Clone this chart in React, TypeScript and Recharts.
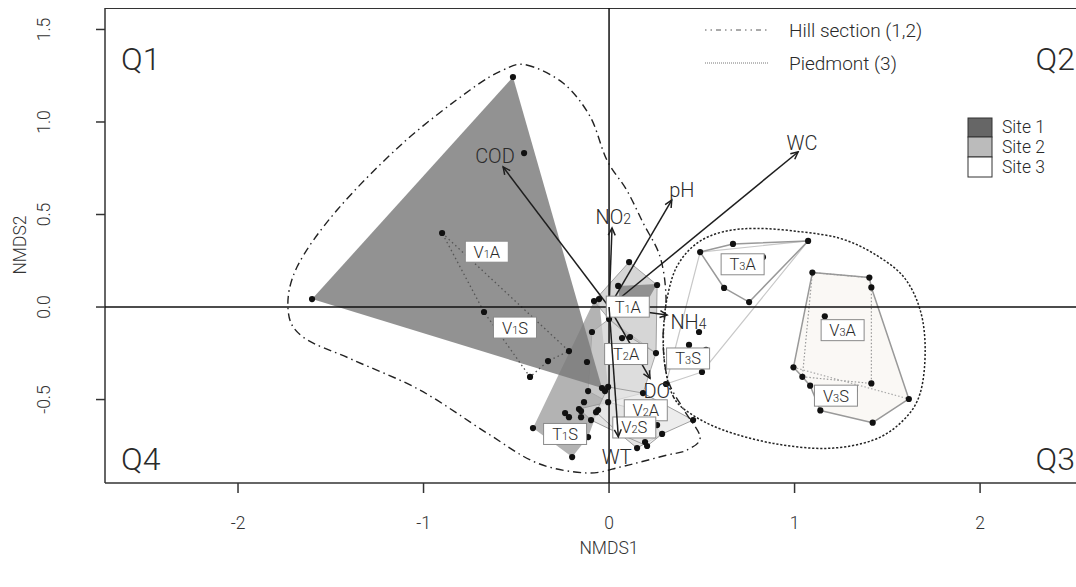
import React from 'react';
import { ScatterChart, Scatter, XAxis, YAxis } from 'recharts';

const X_DOMAIN: [number, number] = [-2.717, 2.517];
const Y_DOMAIN: [number, number] = [-0.951, 1.616];
const X_TICKS = [-2, -1, 0, 1, 2];
const Y_TICKS = [-0.5, 0, 0.5, 1, 1.5];

// hulls, NMDS1 / NMDS2 pairs
const V1A_HULL = [[-1.601, 0.043], [-0.518, 1.243], [-0.038, -0.438]];
const V1S_HULL = [[-0.9, 0.4], [-0.216, -0.238], [-0.329, -0.292], [-0.426, -0.378], [-0.674, -0.027]];
const T1S_HULL = [[-0.41, -0.654], [-0.081, 0.032], [-0.054, 0.043], [-0.005, -0.432], [-0.005, -0.514], [-0.059, -0.557], [-0.113, -0.703], [-0.199, -0.811]];
const T1A_HULL = [[0.049, 0.114], [0.259, 0.124], [0.21, 0.038], [0.06, 0.0]];
const T2A_HULL = [[-0.081, 0.032], [0.108, 0.243], [0.259, 0.119], [0.253, -0.249], [0.113, -0.162], [0.0, -0.065]];
const T2S_HULL = [[-0.092, -0.135], [0.0, -0.065], [0.253, -0.249], [0.183, -0.465], [-0.005, -0.514], [-0.113, -0.454]];
const V2A_HULL = [[-0.005, -0.432], [0.183, -0.465], [0.453, -0.611], [0.286, -0.686], [0.205, -0.751], [0.059, -0.686], [-0.07, -0.568]];
const V2S_HULL = [[-0.162, -0.551], [-0.005, -0.514], [0.173, -0.562], [0.286, -0.686], [0.151, -0.762], [0.059, -0.686], [-0.097, -0.611]];
const T3A_HULL = [[0.491, 0.297], [0.668, 0.341], [1.073, 0.357], [0.755, 0.027], [0.62, 0.103]];
const T3_OUTER = [[0.491, 0.297], [1.073, 0.357], [0.501, -0.351], [0.307, -0.416]];
const V3_OUTER = [[1.096, 0.186], [1.403, 0.159], [1.414, 0.106], [1.616, -0.497], [1.421, -0.625], [1.139, -0.559], [1.084, -0.425], [1.042, -0.377], [0.994, -0.326]];
const V3A_HULL = [[1.096, 0.186], [1.403, 0.159], [1.414, 0.106], [1.414, -0.413], [1.042, -0.377]];
const V3S_CUT = [[0.994, -0.326], [1.616, -0.497]];

// envelopes
const HILL_ENV = [[-0.444, 1.308], [-0.246, 1.209], [-0.102, 1.029], [-0.012, 0.795], [0.095, 0.632], [0.185, 0.452], [0.275, 0.272], [0.307, 0.054], [0.291, -0.178], [0.318, -0.395], [0.404, -0.557], [0.491, -0.703], [0.42, -0.773], [0.313, -0.8], [0.167, -0.838], [0.059, -0.865], [-0.119, -0.897], [-0.388, -0.843], [-0.658, -0.681], [-1.019, -0.449], [-1.38, -0.286], [-1.65, -0.162], [-1.73, -0.016], [-1.682, 0.216], [-1.466, 0.524], [-1.111, 0.886], [-0.749, 1.173], [-0.571, 1.281]];
const PIED_ENV = [[0.347, -0.485], [0.437, -0.575], [0.616, -0.665], [0.886, -0.737], [1.174, -0.764], [1.425, -0.719], [1.587, -0.611], [1.677, -0.466], [1.704, -0.232], [1.677, -0.016], [1.587, 0.164], [1.425, 0.29], [1.245, 0.371], [1.03, 0.407], [0.796, 0.425], [0.616, 0.407], [0.473, 0.344], [0.365, 0.218], [0.311, 0.038], [0.293, -0.142], [0.302, -0.323]];

// sample scores
const SITE1_PTS = [[-1.601, 0.043], [-0.518, 1.243], [-0.458, 0.832], [-0.038, -0.438], [-0.9, 0.4], [-0.674, -0.027], [-0.426, -0.378], [-0.329, -0.292], [-0.216, -0.238]];
const CENTRAL_PTS = [[-0.081, 0.032], [-0.054, 0.043], [0.108, 0.243], [0.049, 0.114], [0.259, 0.119], [-0.092, -0.135], [0.0, -0.065], [0.07, -0.168], [0.113, -0.162], [0.253, -0.249], [-0.119, -0.297], [-0.113, -0.454], [-0.022, -0.454], [-0.005, -0.432], [-0.135, -0.514], [-0.005, -0.514], [-0.162, -0.551], [-0.151, -0.562], [-0.07, -0.568], [-0.059, -0.557], [-0.237, -0.573], [-0.216, -0.595], [-0.151, -0.595], [-0.097, -0.611], [-0.41, -0.654], [-0.248, -0.659], [-0.113, -0.703], [-0.199, -0.811], [0.183, -0.465], [0.173, -0.562], [0.059, -0.686], [0.075, -0.681], [0.259, -0.638], [0.286, -0.686], [0.194, -0.73], [0.205, -0.751], [0.151, -0.762], [0.453, -0.611]];
const SITE3_PTS = [[0.307, -0.416], [0.501, -0.351], [0.485, -0.135], [0.431, -0.205], [0.447, -0.243], [0.523, -0.232], [0.491, 0.297], [0.668, 0.341], [1.073, 0.357], [0.755, 0.027], [0.62, 0.103], [0.83, 0.27], [1.096, 0.186], [1.403, 0.159], [1.414, 0.106], [1.414, -0.413], [1.163, -0.05], [0.994, -0.326], [1.042, -0.377], [1.084, -0.425], [1.139, -0.559], [1.421, -0.625], [1.616, -0.497], [1.324, -0.451]];

// group labels: [main, sub, tail]
const GROUP_NAMES = [['V', '1', 'A'], ['V', '1', 'S'], ['T', '1', 'A'], ['T', '2', 'A'], ['T', '3', 'S'], ['V', '2', 'A'], ['V', '2', 'S'], ['T', '1', 'S'], ['T', '3', 'A'], ['V', '3', 'A'], ['V', '3', 'S']];
const GROUP_X = [-0.659, -0.507, 0.101, 0.092, 0.426, 0.198, 0.136, -0.237, 0.72, 1.259, 1.223];
const GROUP_Y = [0.299, -0.111, 0.002, -0.254, -0.278, -0.558, -0.651, -0.686, 0.231, -0.125, -0.479];

// environmental vectors
const VEC_NAMES = [['COD', ''], ['NO', '2'], ['pH', ''], ['WC', ''], ['NH', '4'], ['DO', ''], ['WT', '']];
const VEC_X = [-0.571, 0.016, 0.338, 1.019, 0.313, 0.221, 0.05];
const VEC_Y = [0.757, 0.427, 0.578, 0.838, -0.043, -0.385, -0.701];
const VEC_LAB_X = [-0.615, 0.023, 0.392, 1.04, 0.428, 0.257, 0.041];
const VEC_LAB_Y = [0.816, 0.488, 0.632, 0.886, -0.079, -0.456, -0.809];

const FONT = "Roboto, 'Liberation Sans', Arial, sans-serif";
const TXT = '#2a2a2a';

const toPts = (a: number[][]) => a.map(([x, y]) => ({ x, y }));
const noDot = () => <g />;

type XY = { x: number; y: number };

const straightPath = (p: XY[], closed: boolean) =>
  p.map((q, i) => `${i ? 'L' : 'M'}${q.x},${q.y}`).join(' ') + (closed ? ' Z' : '');

// closed catmull-rom through the envelope points
const smoothPath = (p: XY[]) => {
  const n = p.length;
  let d = `M${p[0].x},${p[0].y}`;
  for (let i = 0; i < n; i++) {
    const p0 = p[(i - 1 + n) % n], p1 = p[i], p2 = p[(i + 1) % n], p3 = p[(i + 2) % n];
    const c1x = p1.x + (p2.x - p0.x) / 6, c1y = p1.y + (p2.y - p0.y) / 6;
    const c2x = p2.x - (p3.x - p1.x) / 6, c2y = p2.y - (p3.y - p1.y) / 6;
    d += ` C${c1x},${c1y} ${c2x},${c2y} ${p2.x},${p2.y}`;
  }
  return d + ' Z';
};

interface PolyOpts { fill?: string; opacity?: number; stroke?: string; width?: number; dash?: string; closed?: boolean; smooth?: boolean }

const poly = (o: PolyOpts) => (props: any) => {
  const p: XY[] = props.points || [];
  if (!p.length) return <g />;
  const d = o.smooth ? smoothPath(p) : straightPath(p, o.closed !== false);
  return (
    <path d={d} fill={o.fill || 'none'} fillOpacity={o.opacity ?? 1} stroke={o.stroke || 'none'}
      strokeWidth={o.width ?? 1} strokeDasharray={o.dash} strokeLinejoin="round" />
  );
};

const arrow = (props: any) => {
  const p: XY[] = props.points || [];
  if (p.length < 2) return <g />;
  const [a, b] = p;
  const ang = Math.atan2(b.y - a.y, b.x - a.x);
  const L = 8, w = 0.45;
  const h1 = `${b.x - L * Math.cos(ang - w)},${b.y - L * Math.sin(ang - w)}`;
  const h2 = `${b.x - L * Math.cos(ang + w)},${b.y - L * Math.sin(ang + w)}`;
  return (
    <g stroke="#1e1e1e" strokeWidth={1.5} fill="none">
      <line x1={a.x} y1={a.y} x2={b.x} y2={b.y} />
      <path d={`M${h1} L${b.x},${b.y} L${h2}`} />
    </g>
  );
};

const dot = (props: any) => <circle cx={props.cx} cy={props.cy} r={3.1} fill="#111" />;

const groupLabel = (props: any) => {
  const { cx, cy, payload } = props;
  const [m, s, t] = payload.name;
  return (
    <g>
      <rect x={cx - 21.5} y={cy - 10.5} width={43} height={21} fill="#fff" stroke="#8a8a8a" strokeWidth={1} />
      <text x={cx} y={cy + 6} textAnchor="middle" fontSize={16.5} fill={TXT} fontFamily={FONT} fontWeight={300}>
        {m}<tspan fontSize={11}>{s}</tspan>{t}
      </text>
    </g>
  );
};

const vecLabel = (props: any) => {
  const { cx, cy, payload } = props;
  const [m, s] = payload.name;
  return (
    <text x={cx} y={cy + 7} textAnchor="middle" fontSize={20} fill={TXT} fontFamily={FONT} fontWeight={300}>
      {m}{s && <tspan fontSize={14}>{s}</tspan>}
    </text>
  );
};

const YTick = (p: any) => (
  <text x={p.x} y={p.y} transform={`rotate(-90 ${p.x} ${p.y})`} textAnchor="middle"
    fontSize={17.5} fill="#333" fontFamily={FONT} fontWeight={300}>
    {Number(p.payload.value).toFixed(1)}
  </text>
);

const groupData = GROUP_NAMES.map((name, i) => ({ x: GROUP_X[i], y: GROUP_Y[i], name }));
const vecLabData = VEC_NAMES.map((name, i) => ({ x: VEC_LAB_X[i], y: VEC_LAB_Y[i], name }));

const Overlay: React.FC = () => (
  <svg width={1076} height={587} style={{ position: 'absolute', left: 0, top: 0, pointerEvents: 'none' }}
    fontFamily={FONT} fontWeight={300} fill={TXT}>
    <text x={121} y={70} fontSize={32}>Q1</text>
    <text x={1075} y={70} fontSize={32} textAnchor="end">Q2</text>
    <text x={1075} y={470} fontSize={32} textAnchor="end">Q3</text>
    <text x={121} y={470} fontSize={32}>Q4</text>

    <line x1={705} y1={30} x2={768} y2={30} stroke="#555" strokeWidth={1} strokeDasharray="1.5 4 1.5 4 5 4" />
    <text x={789} y={37} fontSize={19}>Hill section (1,2)</text>
    <line x1={705} y1={63} x2={768} y2={63} stroke="#777" strokeWidth={1} strokeDasharray="1 1" />
    <text x={789} y={70} fontSize={19}>Piedmont (3)</text>

    <rect x={968} y={118} width={24} height={19} fill="#666" stroke="#333" />
    <rect x={968} y={137} width={24} height={20} fill="#bbb" stroke="#333" />
    <rect x={968} y={157} width={24} height={20} fill="#fff" stroke="#333" />
    <text x={1002} y={133} fontSize={17.5}>Site 1</text>
    <text x={1002} y={153} fontSize={17.5}>Site 2</text>
    <text x={1002} y={173} fontSize={17.5}>Site 3</text>

    <text x={609} y={554} fontSize={17.5} textAnchor="middle" fill="#333">NMDS1</text>
    <text x={26} y={245} fontSize={17.5} textAnchor="middle" fill="#333" transform="rotate(-90 26 245)">NMDS2</text>
  </svg>
);

export default function App() {
  const frameTop = [[X_DOMAIN[0], Y_DOMAIN[1]], [X_DOMAIN[1], Y_DOMAIN[1]]];
  const zeroH = [[X_DOMAIN[0], 0], [X_DOMAIN[1], 0]];
  const zeroV = [[0, Y_DOMAIN[0]], [0, Y_DOMAIN[1]]];
  const L = (data: number[][], opts: PolyOpts, key: string) => (
    <Scatter key={key} data={toPts(data)} line={poly(opts)} shape={noDot} isAnimationActive={false} />
  );
  const vectors = VEC_X.map((vx, i) => (
    <Scatter key={'v' + i} data={[{ x: 0, y: 0 }, { x: vx, y: VEC_Y[i] }]} line={arrow} shape={noDot} isAnimationActive={false} />
  ));
  return (
    <div style={{ position: 'absolute', left: 0, top: 0, width: 1076, height: 587, background: '#fff' }}>
      <ScatterChart width={1076} height={587} margin={{ top: 8, right: 0, bottom: 0, left: 0 }}>
        <XAxis type="number" dataKey="x" domain={X_DOMAIN} ticks={X_TICKS} allowDataOverflow height={104}
          tickSize={10} tickMargin={24} stroke="#333" strokeWidth={1.5}
          tick={{ fontSize: 17.5, fill: '#333', fontFamily: FONT, fontWeight: 300 }} />
        <YAxis type="number" dataKey="y" domain={Y_DOMAIN} ticks={Y_TICKS} allowDataOverflow width={105}
          tickSize={9} tickMargin={46} stroke="#333" strokeWidth={1.5} tick={YTick} />

        {L(T1S_HULL, { fill: '#9a9a9a', opacity: 0.75 }, 't1s')}
        {L(T2S_HULL, { fill: '#cfcfcf', opacity: 0.7, stroke: '#a8a8a8' }, 't2s')}
        {L(T2A_HULL, { fill: '#c4c4c4', opacity: 0.7, stroke: '#a0a0a0' }, 't2a')}
        {L(V2S_HULL, { fill: '#d9d9d9', opacity: 0.7, stroke: '#9a9a9a' }, 'v2s')}
        {L(V2A_HULL, { fill: '#e6e6e6', opacity: 0.7, stroke: '#a0a0a0' }, 'v2a')}
        {L(T1A_HULL, { fill: '#8a8a8a', opacity: 0.9 }, 't1a')}
        {L(V1A_HULL, { fill: '#7a7a7a', opacity: 0.82 }, 'v1a')}
        {L(V1S_HULL, { stroke: '#555', width: 1.3, dash: '1.5 3' }, 'v1s')}
        {L(T3_OUTER, { stroke: '#c8c8c8', width: 1.2 }, 't3o')}
        {L(T3A_HULL, { stroke: '#999', width: 1.5 }, 't3a')}
        {L(V3_OUTER, { fill: '#f7f3ee', opacity: 0.6, stroke: '#999', width: 1.5 }, 'v3o')}
        {L(V3A_HULL, { stroke: '#999', width: 1.2, dash: '1.5 2' }, 'v3a')}
        {L(V3S_CUT, { stroke: '#aaa', width: 1.2, dash: '1.5 2', closed: false }, 'v3s')}

        {L(HILL_ENV, { stroke: '#222', width: 1.4, dash: '8 4 1.5 4', smooth: true }, 'hill')}
        {L(PIED_ENV, { stroke: '#222', width: 1.5, dash: '2.2 1.8', smooth: true }, 'pied')}

        {L(frameTop, { stroke: '#333', width: 2, closed: false }, 'ftop')}
        {L(zeroH, { stroke: '#111', width: 1.5, closed: false }, 'zh')}
        {L(zeroV, { stroke: '#111', width: 1.5, closed: false }, 'zv')}

        {vectors.slice(0, 6)}
        <Scatter data={toPts(SITE1_PTS)} shape={dot} isAnimationActive={false} />
        <Scatter data={toPts(CENTRAL_PTS)} shape={dot} isAnimationActive={false} />
        <Scatter data={toPts(SITE3_PTS)} shape={dot} isAnimationActive={false} />
        <Scatter data={groupData} shape={groupLabel} isAnimationActive={false} />
        {vectors.slice(6)}
        <Scatter data={vecLabData} shape={vecLabel} isAnimationActive={false} />
      </ScatterChart>
      <Overlay />
    </div>
  );
}
